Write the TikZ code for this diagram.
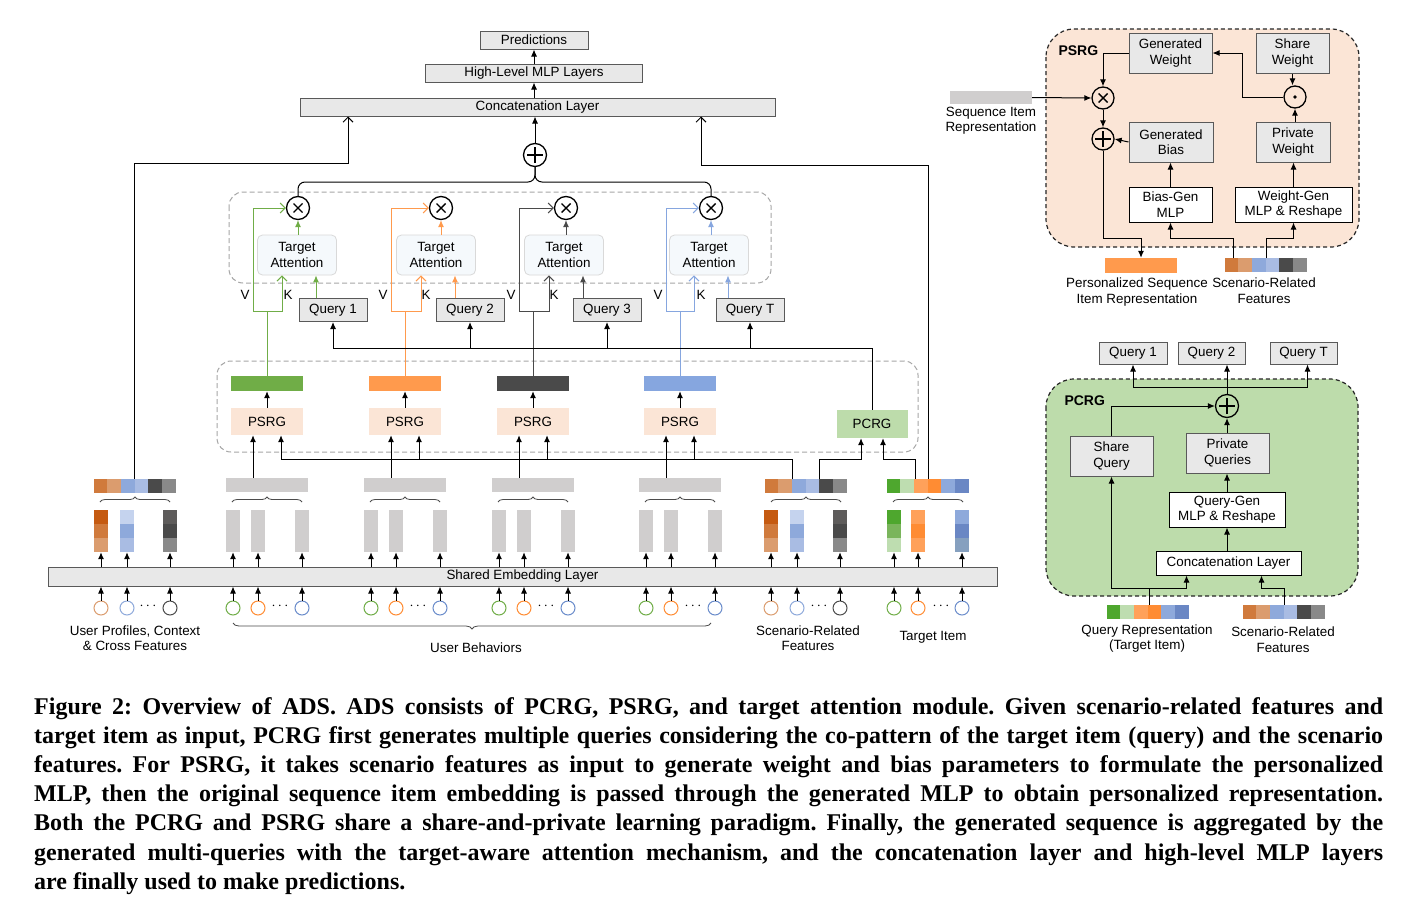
\documentclass[tikz,border=0pt]{standalone}
\usepackage{fontspec}
\setmainfont{Liberation Sans}
\newfontfamily\capfont{Liberation Serif}
\usetikzlibrary{calc, positioning, arrows.meta, decorations.pathreplacing}

\definecolor{boxgray}{HTML}{E8E8E8}
\definecolor{featgray}{HTML}{D0CECE}
\definecolor{psrgbg}{HTML}{FBE5D6}
\definecolor{pcrgbg}{HTML}{BDDCAB}
\definecolor{attbg}{HTML}{F5F9FC}
\definecolor{vgreen}{HTML}{70AD47}
\definecolor{vorange}{HTML}{FF9A4D}
\definecolor{vdark}{HTML}{4A4A4A}
\definecolor{vblue}{HTML}{86A6DF}
\definecolor{sc1}{HTML}{D07A3C}
\definecolor{sc2}{HTML}{DB9C6E}
\definecolor{sc3}{HTML}{8EA9DB}
\definecolor{sc4}{HTML}{A9BCE3}
\definecolor{sc5}{HTML}{4A4A4A}
\definecolor{sc6}{HTML}{898989}
\definecolor{sc7}{HTML}{C55A11}
\definecolor{sc8}{HTML}{C5D3EE}
\definecolor{sc9}{HTML}{5E5C5B}
\definecolor{ti1}{HTML}{4EA72E}
\definecolor{ti2}{HTML}{BEDDB0}
\definecolor{ti3}{HTML}{FFA15A}
\definecolor{ti4}{HTML}{FF8C33}
\definecolor{ti5}{HTML}{8EA9DB}
\definecolor{ti6}{HTML}{6A87C4}
\definecolor{ti7}{HTML}{7AB55C}
\definecolor{ti8}{HTML}{86A0BF}
\definecolor{rgreen}{HTML}{70AD47}
\definecolor{rorange}{HTML}{FF8C33}
\definecolor{rblue}{HTML}{6A8CCB}

\tikzset{
  every node/.style={font=\fontsize{13.4}{15.5}\selectfont},
  graybox/.style={rectangle, draw=black!65, fill=boxgray, line width=1pt, inner sep=0pt, align=center},
  whitebox/.style={rectangle, draw=black, fill=white, line width=1pt, inner sep=0pt, align=center},
  attbox/.style={rectangle, rounded corners=5pt, draw=black!15, fill=attbg, line width=0.8pt, minimum width=79pt, minimum height=40pt, align=center},
  gen/.style={rectangle, inner sep=0pt, minimum width=72pt, minimum height=27pt},
  rep/.style={rectangle, inner sep=0pt, minimum width=72pt, minimum height=15pt},
  fbar/.style={rectangle, inner sep=0pt, minimum width=82pt, minimum height=14pt},
  fcol/.style={rectangle, inner sep=0pt, minimum width=14pt, minimum height=42pt},
  ring/.style={circle, draw, line width=1pt, minimum size=14pt, inner sep=0pt},
  opc/.style={circle, draw, line width=1.3pt, minimum size=23pt, inner sep=0pt},
  otimesop/.style={opc, path picture={\draw[line width=1.4pt]
      ([shift={(-4.5pt,-4.5pt)}]path picture bounding box.center) -- ([shift={(4.5pt,4.5pt)}]path picture bounding box.center)
      ([shift={(-4.5pt,4.5pt)}]path picture bounding box.center) -- ([shift={(4.5pt,-4.5pt)}]path picture bounding box.center);}},
  oplusop/.style={opc, path picture={\draw[line width=1.1pt]
      ([xshift=-8pt]path picture bounding box.center) -- ([xshift=8pt]path picture bounding box.center)
      ([yshift=-8pt]path picture bounding box.center) -- ([yshift=8pt]path picture bounding box.center);}},
  odotop/.style={opc, path picture={\fill (path picture bounding box.center) circle (1.8pt);}},
  arr/.style={-{Latex[length=7pt,width=6pt]}, line width=1pt},
  oarr/.style={-{Straight Barb[length=5pt,width=10pt]}, line width=1pt},
  region/.style={draw=black!35, dash pattern=on 5pt off 3pt, rounded corners=14pt, line width=1pt},
  panel/.style={draw=black!85, dash pattern=on 4pt off 3pt, rounded corners=28pt, line width=1.2pt},
  lbl/.style={align=center, inner sep=0pt},
  ubrace/.style={decorate, decoration={brace, amplitude=5pt}, draw=black!70, line width=0.8pt},
}

\newcommand{\capline}[1]{\makebox[1349pt][s]{#1}}

% six coloured cells in a row
\newcommand{\cellbar}[3]{%
  \node[fbar] (#1) at (#2) {};
  \foreach \cl [count=\i from 0] in {#3}
    \fill[\cl] ([xshift=\i*13.667pt]#1.north west) rectangle ++(13.667,14);
}

% one feature group: columns, rings, dots and brace
\newcommand{\featgroup}[3]{%
  \foreach \dx/\fa/\fb/\fc/\rcol [count=\j] in {#3} {
    \node[fcol] (#1c\j) at ({#2+\dx},531) {};
    \fill[\fa] (#1c\j.north west) rectangle ++(14,14);
    \fill[\fb] ([yshift=-14pt]#1c\j.north west) rectangle ++(14,14);
    \fill[\fc] ([yshift=-28pt]#1c\j.north west) rectangle ++(14,14);
    \node[ring, draw=\rcol] (#1r\j) at ({#2+\dx},608) {};
    \draw[arr] (#1r\j.north) -- (#1r\j.north |- emb.south);
    \draw[arr] (#1c\j.south |- emb.north) -- (#1c\j.south);
  }
  \node[inner sep=0pt] (#1dots) at ({#2+13},606) {$\cdots$};
  \draw[ubrace] ({#2-35},502) -- ({#2+35},502);
}

\begin{document}
\begin{tikzpicture}[x=1pt, y=-1pt]
\fill[white] (0,0) rectangle (1412,910);
\useasboundingbox (0,0) rectangle (1412,910);

% dashed regions
\draw[region] (229,192) rectangle (771,283);
\draw[region] (217,361) rectangle (918,452);

% top layers
\node[graybox, minimum width=108pt, minimum height=18pt] (pred) at (534,40) {Predictions};
\node[graybox, minimum width=217pt, minimum height=18pt] (mlp) at (534,73) {High-Level MLP Layers};
\node[graybox, minimum width=475pt, minimum height=18pt] (concat) at (537.5,107) {Concatenation Layer};
\node[oplusop] (sum) at (535,155) {};
\draw[arr] (mlp) -- (pred);
\draw[arr] (mlp.south |- concat.north) -- (mlp.south);
\draw[arr] (sum.north) -- (sum.north |- concat.south);

% embedding layer
\node[graybox, minimum width=949pt, minimum height=19pt] (emb) at (522.5,576.5) {Shared Embedding Layer};

% attention units, PSRG units and user behaviours
\foreach \k/\ox/\tx/\qx/\qn/\bx/\clr in {1/298/297/333/1/267/vgreen, 2/441/436/470/2/405/vorange, 3/566/564/607/3/533/vdark, 4/711/709/750/T/680/vblue} {
  \node[otimesop] (ot\k) at (\ox,208) {};
  \node[attbox] (ta\k) at (\tx,255) {Target\\Attention};
  \node[graybox, minimum width=68pt, minimum height=23pt] (q\k) at (\qx,310) {Query \qn};
  \node[rep, fill=\clr] (rep\k) at (\bx,383.5) {};
  \node[gen, fill=psrgbg] (psrg\k) at (\bx,421.5) {PSRG};
  \node[fbar, fill=featgray] (gb\k) at (\bx,485) {};
  \node (v\k) at ({\bx-22},295) {V};
  \node (k\k) at ({\bx+21},295) {K};
  \draw[arr, \clr] (ta\k.north -| ot\k.south) -- (ot\k.south);
  \draw[arr, \clr] ([xshift=19pt]ta\k.south |- q\k.north) -- ([xshift=19pt]ta\k.south);
  \draw[oarr, \clr] (rep\k.north) -- (\bx,311) -| ({\bx-14},208) -- (ot\k.west);
  \draw[oarr, \clr] (\bx,311) -| ([xshift=-15pt]ta\k.south);
  \draw[arr] (psrg\k) -- (rep\k);
  \draw[arr] ([xshift=-14pt]gb\k.north) -- ([xshift=-14pt]psrg\k.south);
  \featgroup{b\k}{\bx}{-34/featgray/featgray/featgray/rgreen, -9/featgray/featgray/featgray/rorange, 35/featgray/featgray/featgray/rblue}
}

% sum of the attention outputs
\coordinate (bjoin) at (535,182);
\draw[line width=1pt, rounded corners=7pt] (ot1.north) |- (bjoin) -- (sum.south);
\draw[line width=1pt, rounded corners=7pt] (ot4.north) |- (bjoin) -- (sum.south);

% user profiles, scenario features, target item
\cellbar{upbar}{135,486}{sc1,sc2,sc3,sc4,sc5,sc6}
\featgroup{up}{135}{-34/sc7/sc1/sc2/sc2, -8/sc8/sc3/sc4/sc3, 35/sc9/sc5/sc6/sc5}
\cellbar{sbar}{806,486}{sc1,sc2,sc3,sc4,sc5,sc6}
\featgroup{sc}{806}{-35/sc7/sc1/sc2/sc2, -9/sc8/sc3/sc4/sc3, 34/sc9/sc5/sc6/sc5}
\cellbar{tbar}{928,486}{ti1,ti2,ti3,ti4,ti5,ti6}
\featgroup{ti}{928}{-34/ti1/ti7/ti2/rgreen, -10/ti3/ti4/ti3/rorange, 34/ti5/ti6/ti8/rblue}

\node[lbl] (uplbl) at (135,638) {User Profiles, Context\\\& Cross Features};
\node[lbl] (sclbl) at (808,638) {Scenario-Related\\Features};
\node[lbl] (tilbl) at (933,637) {Target Item};
\node[lbl] (ublbl) at (476,648) {User Behaviors};
\draw[ubrace, decoration={brace, mirror, amplitude=6pt}] (233,623) -- (711,623);

% PCRG and queries
\node[gen, fill=pcrgbg, minimum width=71pt, minimum height=28pt] (pcrg) at (872,424) {PCRG};
\coordinate (qbus) at (333,348);
\draw[line width=1pt] (pcrg.north) |- (qbus);
\foreach \k in {1,...,4}
  \draw[arr] (q\k.south |- qbus) -- (q\k.south);

% inputs of PSRG and PCRG
\coordinate (pbus) at (281,459);
\draw[line width=1pt] ([xshift=-14pt]sbar.north) |- ([xshift=14pt]psrg1.south |- pbus);
\foreach \k in {1,...,4}
  \draw[arr] ([xshift=14pt]psrg\k.south |- pbus) -- ([xshift=14pt]psrg\k.south);
\draw[arr] ([xshift=13pt]sbar.north) |- ([xshift=-11pt]pcrg.south |- pbus) -- ([xshift=-11pt]pcrg.south);
\draw[arr] ([xshift=-13pt]tbar.north) |- ([xshift=11pt]pcrg.south |- pbus) -- ([xshift=11pt]pcrg.south);

% side inputs of the concatenation layer
\coordinate (lturn) at (348,163);
\coordinate (rturn) at (701,165);
\draw[oarr] ([xshift=-1pt]upbar.north) |- (lturn) -- (lturn |- concat.south);
\draw[oarr] (tbar.north) |- (rturn) -- (rturn |- concat.south);

% ---- PSRG detail ----
\draw[panel, fill=psrgbg] (1046,29) rectangle (1359,247);
\node[anchor=west, font=\fontsize{14}{16}\selectfont\bfseries] (psrgtitle) at (1055,51) {PSRG};
\node[graybox, minimum width=83pt, minimum height=40pt] (gw) at (1170.5,53) {Generated\\Weight};
\node[graybox, minimum width=73pt, minimum height=40pt] (sw) at (1292.5,53) {Share\\Weight};
\node[graybox, minimum width=84pt, minimum height=40pt] (gbias) at (1171,142) {Generated\\Bias};
\node[graybox, minimum width=74pt, minimum height=40pt] (pw) at (1293,142) {Private\\Weight};
\node[whitebox, minimum width=83pt, minimum height=35pt] (bgm) at (1170.5,204.5) {Bias-Gen\\MLP};
\node[whitebox, minimum width=117pt, minimum height=35pt] (wgm) at (1293.5,204.5) {Weight-Gen\\MLP \& Reshape};
\node[otimesop, minimum size=22pt] (mul) at (1103,98) {};
\node[odotop, minimum size=22pt] (hdot) at (1295,97) {};
\node[oplusop, minimum size=22pt] (add) at (1103,139) {};
\node[fbar, fill=featgray, minimum height=13pt] (seqbar) at (991,97.5) {};
\node[lbl] (seqlbl) at (991,120.5) {Sequence Item\\Representation};
\node[rep, fill=vorange] (perbar) at (1141,265.5) {};
\node[lbl] (perlbl) at (1137,292) {Personalized Sequence\\Item Representation};
\cellbar{scbarb}{1266,265.5}{sc1,sc2,sc3,sc4,sc5,sc6}
\node[lbl] (scblbl) at (1264,290.5) {Scenario-Related\\Features};

\draw[arr] (seqbar.east) -- (mul.west);
\draw[arr] (gw.west) -| (mul.north);
\draw[arr] (sw.south) -- (sw.south |- hdot.north);
\draw[arr] (hdot.west) -| ([xshift=30pt]gw.east) -- (gw.east);
\draw[arr] (pw.north -| hdot.south) -- (hdot.south);
\draw[arr] (mul.south) -- (add.north);
\draw[arr] (gbias.west) -- (add.east);
\draw[arr] (bgm.north) -- (bgm.north |- gbias.south);
\draw[arr] (wgm.north) -- (wgm.north |- pw.south);
\coordinate (sbus) at (1200,238);
\draw[arr] (add.south) |- (perbar.north |- sbus) -- (perbar.north);
\draw[arr] ([xshift=-33pt]scbarb.north) |- (bgm.south |- sbus) -- (bgm.south);
\draw[arr] (scbarb.north) |- (wgm.south |- sbus) -- (wgm.south);

% ---- PCRG detail ----
\draw[panel, fill=pcrgbg] (1046,379) rectangle (1358,596);
\node[anchor=west, font=\fontsize{14}{16}\selectfont\bfseries] (pcrgtitle) at (1061,401) {PCRG};
\node[graybox, minimum width=68pt, minimum height=22pt] (pq1) at (1133,353) {Query 1};
\node[graybox, minimum width=67pt, minimum height=22pt] (pq2) at (1211.5,353) {Query 2};
\node[graybox, minimum width=67pt, minimum height=22pt] (pqt) at (1303.5,353) {Query T};
\node[oplusop] (add2) at (1227,406) {};
\node[graybox, minimum width=83pt, minimum height=40pt] (sq) at (1111.5,456) {Share\\Query};
\node[graybox, minimum width=83pt, minimum height=40pt] (pq) at (1227.5,453) {Private\\Queries};
\node[whitebox, minimum width=116pt, minimum height=35pt] (qg) at (1227,509.5) {Query-Gen\\MLP \& Reshape};
\node[whitebox, minimum width=145pt, minimum height=24pt] (cl) at (1228.5,563) {Concatenation Layer};
\cellbar{qrbar}{1148,612}{ti1,ti2,ti3,ti4,ti5,ti6}
\cellbar{scbarc}{1284,612}{sc1,sc2,sc3,sc4,sc5,sc6}
\node[lbl] (qrlbl) at (1147,638.5) {Query Representation\\(Target Item)};
\node[lbl] (scclbl) at (1283,639.5) {Scenario-Related\\Features};

\coordinate (qbus2) at (1227,387);
\draw[arr] (add2.north) -- (add2.north |- pq2.south);
\draw[arr] (qbus2) -| (pq1.south);
\draw[arr] (qbus2) -| ([xshift=4pt]pqt.south);
\draw[arr] (sq.north) |- (add2.west);
\draw[arr] (pq.north -| add2.south) -- (add2.south);
\draw[arr] (qg.north) -- (qg.north |- pq.south);
\draw[arr] (cl.north -| qg.south) -- (qg.south);
\coordinate (cbus) at (1149,588);
\draw[line width=1pt] (qrbar.north -| cbus) -- (cbus);
\draw[arr] (cbus) -| (sq.south);
\draw[arr] (cbus) -| ([xshift=-42pt]cl.south);
\draw[arr] (scbarc.north) |- ([xshift=33pt]cl.south |- cbus) -- ([xshift=33pt]cl.south);

% caption
\node[anchor=north west, inner sep=0pt, align=left, font=\capfont\bfseries\fontsize{24}{29.2}\selectfont\frenchspacing] (caption) at (34,697) {%
\capline{Figure 2: Overview of ADS. ADS consists of PCRG, PSRG, and target attention module. Given scenario-related features and}\\
\capline{target item as input, PCRG first generates multiple queries considering the co-pattern of the target item (query) and the scenario}\\
\capline{features. For PSRG, it takes scenario features as input to generate weight and bias parameters to formulate the personalized}\\
\capline{MLP, then the original sequence item embedding is passed through the generated MLP to obtain personalized representation.}\\
\capline{Both the PCRG and PSRG share a share-and-private learning paradigm. Finally, the generated sequence is aggregated by the}\\
\capline{generated multi-queries with the target-aware attention mechanism, and the concatenation layer and high-level MLP layers}\\
are finally used to make predictions.};
\end{tikzpicture}
\end{document}
